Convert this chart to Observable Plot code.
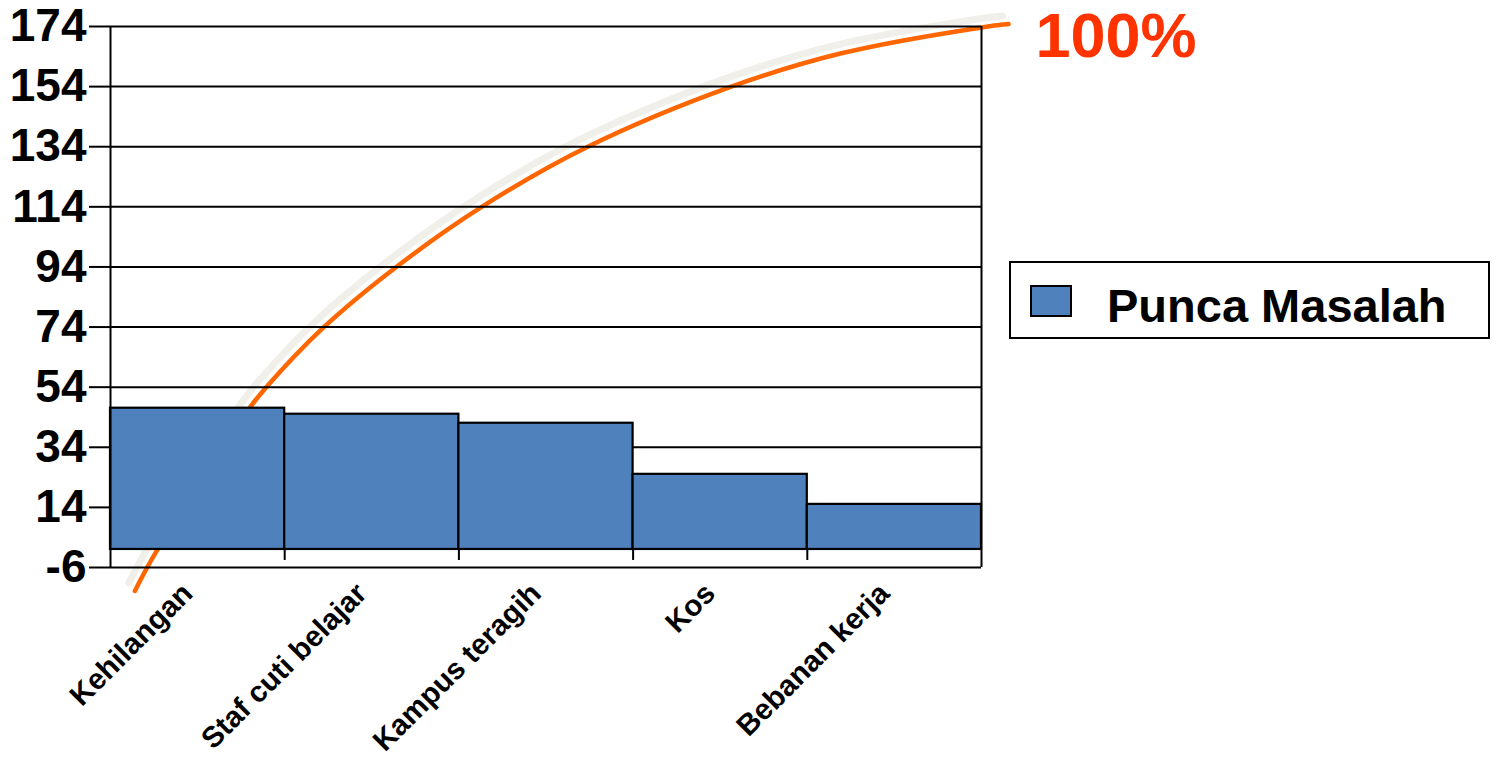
<!DOCTYPE html>
<html>
<head>
<meta charset="utf-8">
<script src="https://cdn.jsdelivr.net/npm/d3@7"></script>
<script src="https://cdn.jsdelivr.net/npm/@observablehq/plot@0.6"></script>
<style>
  html, body { margin: 0; padding: 0; background: #fff; }
  #wrap { position: relative; width: 1496px; height: 761px; overflow: hidden; font-family: "Liberation Sans", Arial, sans-serif; }
  #legend { position: absolute; left: 1009px; top: 261px; width: 481px; height: 78px; box-sizing: border-box; border: 2px solid #000; background: #fff; }
  #legend .sw { position: absolute; left: 19px; top: 22px; width: 42px; height: 32px; box-sizing: border-box; border: 2px solid #000; }
  #legend .lbl { position: absolute; left: 96px; top: 15px; font-size: 47px; font-weight: bold; line-height: normal; white-space: nowrap; color: #000; }
</style>
</head>
<body>
<div id="wrap"></div>
<script>
// ---- data ----
const categories = ["Kehilangan", "Staf cuti belajar", "Kampus teragih", "Kos", "Bebanan kerja"];
const counts = [47, 45, 42, 25, 15];
const yTicks = [-6, 14, 34, 54, 74, 94, 114, 134, 154, 174];
const seriesName = "Punca Masalah";
// orange decorative cumulative curve (x in bar-slot units, y in count units)
const curveX = [0.14, 0.26, 0.80, 0.89, 1.22, 1.65, 2.14, 2.74, 3.56, 4.19, 5.00, 5.155];
const curveY = [-13.8, -1.0, 47.2, 53.7, 73.7, 94.4, 114.3, 134.0, 153.9, 165.0, 173.7, 174.8];
const curveLabel = "100%";

// ---- derived tables ----
const bars = categories.map((c, i) => ({i, c, v: counts[i]}));
const curve = curveX.map((x, i) => ({x, y: curveY[i]}));
const curveEnd = [curve[curve.length - 1]];
const boundaries = d3.range(1, categories.length);
const yMin = yTicks[0], yMax = yTicks[yTicks.length - 1];

const barColor = "#4F81BD";

const chart = Plot.plot({
  width: 1496,
  height: 761,
  marginLeft: 110,
  marginRight: 515,
  marginTop: 26,
  marginBottom: 194,
  style: {fontFamily: "'Liberation Sans', Arial, sans-serif", color: "#000", background: "#fff", overflow: "visible"},
  x: {domain: [0, categories.length], axis: null},
  y: {domain: [yMin, yMax], axis: null},
  marks: [
    // curve shadow + curve
    Plot.line(curve, {x: "x", y: "y", curve: "catmull-rom", stroke: "#f0efe9", strokeWidth: 7, dx: -6, dy: -8}),
    Plot.line(curve, {x: "x", y: "y", curve: "catmull-rom", stroke: "#FF6600", strokeWidth: 4.5}),
    // grid lines
    Plot.ruleY(yTicks, {stroke: "#000", strokeWidth: 2}),
    // bars
    Plot.rect(bars, {x1: d => d.i, x2: d => d.i + 1, y1: 0, y2: "v", fill: barColor, stroke: "#000", strokeWidth: 2.2}),
    // category tick marks
    Plot.ruleX(boundaries, {y1: 0, y2: 0, insetBottom: -11, stroke: "#000", strokeWidth: 2}),
    // frame verticals
    Plot.ruleX([0, categories.length], {y1: yMin, y2: yMax, stroke: "#000", strokeWidth: 2}),
    // y axis
    Plot.axisY(yTicks, {tickSize: 21, tickPadding: 3, fontSize: 46, fontWeight: "bold", strokeWidth: 2, stroke: "#000", fill: "#000", label: null, tickFormat: d => String(d)}),
    // x labels
    Plot.text(bars, {x: d => d.i + 0.5, y: yMin, text: "c", rotate: -45, textAnchor: "end", dy: 21, dx: -10, fontSize: 29.5, fontWeight: "bold", fill: "#000"}),
    // 100% label
    Plot.text(curveEnd, {x: "x", y: "y", text: () => curveLabel, textAnchor: "start", dx: 27, dy: 13, fontSize: 63, fontWeight: "bold", fill: "#FF3300"})
  ]
});

const wrap = document.getElementById("wrap");
wrap.appendChild(chart);
const legend = document.createElement("div");
legend.id = "legend";
legend.innerHTML = `<div class="sw" style="background:${barColor}"></div><div class="lbl"></div>`;
legend.querySelector(".lbl").textContent = seriesName;
wrap.appendChild(legend);
</script>
</body>
</html>
